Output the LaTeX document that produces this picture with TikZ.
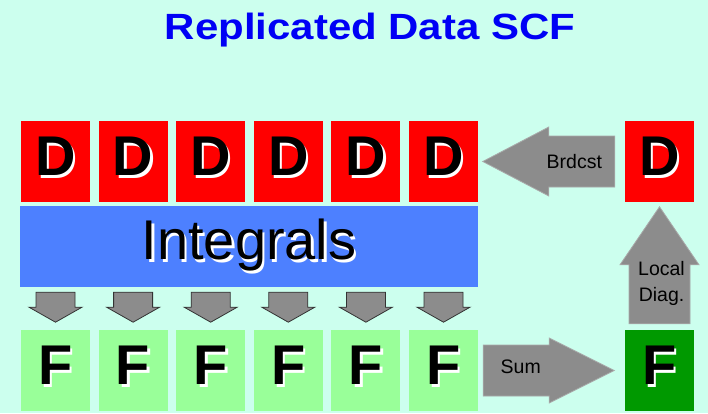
\documentclass[tikz,border=0pt]{standalone}
\usepackage{fontspec}
\setmainfont{Liberation Sans}
\usetikzlibrary{calc}
\definecolor{bgmint}{RGB}{204,255,238}
\definecolor{dred}{RGB}{255,0,0}
\definecolor{intblue}{RGB}{77,128,255}
\definecolor{flight}{RGB}{153,255,153}
\definecolor{fdark}{RGB}{0,153,0}
\definecolor{arrgray}{RGB}{140,140,140}
\definecolor{titleblue}{RGB}{0,0,245}
\newcommand{\shadowtxt}[1]{\makebox[0pt][l]{\hspace*{2.5pt}\raisebox{-2.5pt}{\color{white}#1}}#1}
\newcommand{\fatarrow}[7]{\begin{scope}[shift={(#2)},rotate=#3]
  \filldraw[#1] (0,-#6)--(#4-#5,-#6)--(#4-#5,-#7)--(#4,0)--(#4-#5,#7)--(#4-#5,#6)--(0,#6)--cycle;\end{scope}}
\tikzset{
  mat/.style={minimum width=69pt,minimum height=81pt,inner sep=0pt,text depth=10pt,
    font=\fontsize{56}{56}\bfseries\selectfont},
  dmat/.style={mat,fill=dred},
  fmat/.style={mat,fill=flight},
  bigarr/.style={fill=arrgray,draw=arrgray!75!white,line width=0.8pt},
  smallarr/.style={fill=arrgray,draw=black!80,line width=0.8pt},
  arrlabel/.style={font=\fontsize{19.5}{26}\selectfont,align=center,inner sep=0pt}
}
\begin{document}
\begin{tikzpicture}[x=1pt,y=1pt]
\fill[bgmint] (0,0) rectangle (708,413);
\useasboundingbox (0,0) rectangle (708,413);
\node[text=titleblue,anchor=base,font=\fontsize{36.5}{40}\bfseries\selectfont] (title) at (370,373.7) {\scalebox{1.15}[1]{Replicated Data SCF}};
% replicated D and F matrices
\foreach \i in {1,...,6}{
  \node[dmat] (d\i) at ({55.5+77.6*(\i-1)},251.5) {\shadowtxt{D}};
  \node[fmat] (f\i) at ({55.5+77.6*(\i-1)},42.5) {\shadowtxt{F}};
}
\node[fill=intblue,minimum width=458pt,minimum height=81pt,inner sep=0pt,font=\fontsize{56}{56}\selectfont] (ints) at (249,166.5) {\shadowtxt{Integrals}};
\node[dmat] (dr) at (659.5,251.5) {\shadowtxt{D}};
\node[mat,fill=fdark] (fr) at (659.5,42.5) {\shadowtxt{F}};
% arrows
\foreach \i in {1,...,6}{
  \fatarrow{smallarr}{d\i|-{$(ints.south)+(0,-5)$}}{-90}{30}{15}{19.5}{26.5}
}
\fatarrow{bigarr}{$(dr.west)+(-10,0)$}{180}{132}{66}{25.5}{34.5}
\fatarrow{bigarr}{$(fr.north)+(0,6)$}{90}{117}{58}{30.5}{39.5}
\fatarrow{bigarr}{$(f6.east)+(5,0)$}{0}{131}{65}{25.5}{32.5}
\node[arrlabel] (brd) at ($(dr.west)+(-50.5,0)$) {Brdcst};
\node[arrlabel] (sum) at ($(f6.east)+(42.5,3.5)$) {Sum};
\node[arrlabel] (diag) at ($(fr.north)+(2,46)$) {Local\\Diag.};
\end{tikzpicture}
\end{document}
